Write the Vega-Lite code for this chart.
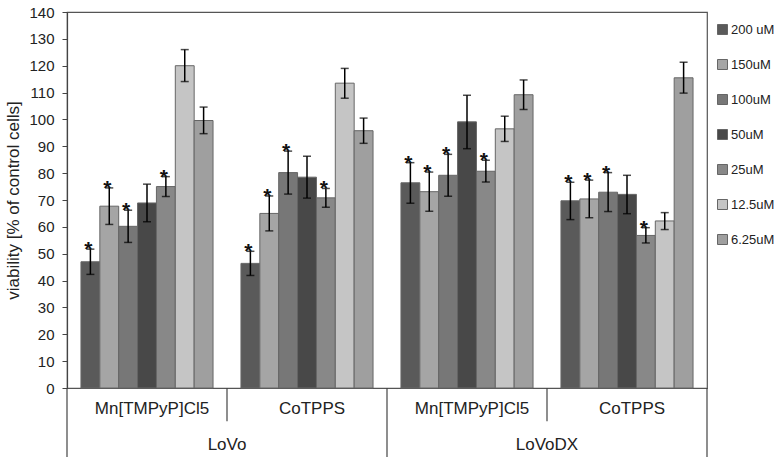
{
  "$schema": "https://vega.github.io/schema/vega-lite/v6.json",
  "width": 640,
  "height": 376,
  "autosize": {"type": "none"},
  "padding": {"left": 67, "top": 12, "right": 70, "bottom": 69},
  "background": "white",
  "config": {
    "font": "Liberation Sans",
    "view": {"stroke": "#555", "strokeWidth": 1.2},
    "axis": {"grid": false},
    "axisY": {"labelOverlap": false, "tickCount": 30, "labelFontSize": 15, "labelColor": "#222", "labelPadding": 8,
              "tickSize": 5, "tickColor": "#444", "domainColor": "#444", "domainWidth": 1.2,
              "titleFontSize": 17, "titleFontWeight": "normal", "titleColor": "#222", "titlePadding": 6}
  },
  "data": {"values": [
    {"grp": "LoVo Mn[TMPyP]Cl5", "conc": "200 uM", "v": 47.0, "lo": 42.3, "hi": 51.7, "star": "*"},
    {"grp": "LoVo Mn[TMPyP]Cl5", "conc": "150uM", "v": 67.7, "lo": 60.9, "hi": 74.5, "star": "*"},
    {"grp": "LoVo Mn[TMPyP]Cl5", "conc": "100uM", "v": 60.2, "lo": 54.2, "hi": 66.2, "star": "*"},
    {"grp": "LoVo Mn[TMPyP]Cl5", "conc": "50uM", "v": 68.9, "lo": 61.9, "hi": 75.9, "star": ""},
    {"grp": "LoVo Mn[TMPyP]Cl5", "conc": "25uM", "v": 75.0, "lo": 71.3, "hi": 78.7, "star": "*"},
    {"grp": "LoVo Mn[TMPyP]Cl5", "conc": "12.5uM", "v": 120.0, "lo": 114.1, "hi": 126.0, "star": ""},
    {"grp": "LoVo Mn[TMPyP]Cl5", "conc": "6.25uM", "v": 99.6, "lo": 94.7, "hi": 104.6, "star": ""},
    {"grp": "LoVo CoTPPS", "conc": "200 uM", "v": 46.4, "lo": 41.9, "hi": 50.9, "star": "*"},
    {"grp": "LoVo CoTPPS", "conc": "150uM", "v": 65.0, "lo": 58.5, "hi": 71.5, "star": "*"},
    {"grp": "LoVo CoTPPS", "conc": "100uM", "v": 80.2, "lo": 72.2, "hi": 88.2, "star": "*"},
    {"grp": "LoVo CoTPPS", "conc": "50uM", "v": 78.5, "lo": 70.7, "hi": 86.3, "star": ""},
    {"grp": "LoVo CoTPPS", "conc": "25uM", "v": 70.8, "lo": 67.3, "hi": 74.3, "star": "*"},
    {"grp": "LoVo CoTPPS", "conc": "12.5uM", "v": 113.5, "lo": 107.9, "hi": 119.0, "star": ""},
    {"grp": "LoVo CoTPPS", "conc": "6.25uM", "v": 95.8, "lo": 91.1, "hi": 100.5, "star": ""},
    {"grp": "LoVoDX Mn[TMPyP]Cl5", "conc": "200 uM", "v": 76.4, "lo": 68.8, "hi": 83.9, "star": "*"},
    {"grp": "LoVoDX Mn[TMPyP]Cl5", "conc": "150uM", "v": 73.1, "lo": 65.8, "hi": 80.4, "star": "*"},
    {"grp": "LoVoDX Mn[TMPyP]Cl5", "conc": "100uM", "v": 79.2, "lo": 71.4, "hi": 87.0, "star": "*"},
    {"grp": "LoVoDX Mn[TMPyP]Cl5", "conc": "50uM", "v": 99.1, "lo": 89.1, "hi": 109.0, "star": ""},
    {"grp": "LoVoDX Mn[TMPyP]Cl5", "conc": "25uM", "v": 80.7, "lo": 76.7, "hi": 84.8, "star": "*"},
    {"grp": "LoVoDX Mn[TMPyP]Cl5", "conc": "12.5uM", "v": 96.5, "lo": 91.8, "hi": 101.2, "star": ""},
    {"grp": "LoVoDX Mn[TMPyP]Cl5", "conc": "6.25uM", "v": 109.2, "lo": 103.7, "hi": 114.7, "star": ""},
    {"grp": "LoVoDX CoTPPS", "conc": "200 uM", "v": 69.7, "lo": 62.7, "hi": 76.6, "star": "*"},
    {"grp": "LoVoDX CoTPPS", "conc": "150uM", "v": 70.4, "lo": 63.4, "hi": 77.4, "star": "*"},
    {"grp": "LoVoDX CoTPPS", "conc": "100uM", "v": 72.9, "lo": 65.7, "hi": 80.2, "star": "*"},
    {"grp": "LoVoDX CoTPPS", "conc": "50uM", "v": 72.1, "lo": 64.9, "hi": 79.2, "star": ""},
    {"grp": "LoVoDX CoTPPS", "conc": "25uM", "v": 56.8, "lo": 54.0, "hi": 59.7, "star": "*"},
    {"grp": "LoVoDX CoTPPS", "conc": "12.5uM", "v": 62.2, "lo": 59.0, "hi": 65.3, "star": ""},
    {"grp": "LoVoDX CoTPPS", "conc": "6.25uM", "v": 115.5, "lo": 109.8, "hi": 121.3, "star": ""}
  ]},
  "encoding": {
    "x": {"field": "grp", "type": "nominal", "axis": null,
          "scale": {"domain": ["LoVo Mn[TMPyP]Cl5", "LoVo CoTPPS", "LoVoDX Mn[TMPyP]Cl5", "LoVoDX CoTPPS"], "paddingInner": 0, "paddingOuter": 0}}
  },
  "layer": [
    {
      "mark": {"type": "bar", "stroke": "#666", "strokeWidth": 1},
      "encoding": {
        "xOffset": {"field": "conc", "type": "nominal",
                    "scale": {"domain": ["200 uM", "150uM", "100uM", "50uM", "25uM", "12.5uM", "6.25uM"], "paddingInner": 0, "paddingOuter": 0.74}},
        "y": {"field": "v", "type": "quantitative",
              "scale": {"domain": [0, 140], "nice": false, "zero": true},
              "axis": {"values": [0, 10, 20, 30, 40, 50, 60, 70, 80, 90, 100, 110, 120, 130, 140],
                       "labelOverlap": false, "tickCount": 30,
                       "title": "viability [% of control cells]"}},
        "color": {"field": "conc", "type": "nominal",
                  "scale": {"domain": ["200 uM", "150uM", "100uM", "50uM", "25uM", "12.5uM", "6.25uM"],
                            "range": ["#5a5a5a", "#a5a5a5", "#777777", "#484848", "#888888", "#c5c5c5", "#9f9f9f"]},
                  "legend": {"title": null, "orient": "none", "legendX": 649, "legendY": 11, "padding": 0,
                             "symbolType": "square", "symbolSize": 100, "symbolStrokeColor": "#666", "symbolStrokeWidth": 1,
                             "labelFontSize": 13, "labelColor": "#222", "labelOffset": 2, "rowPadding": 20}}
      }
    },
    {
      "mark": {"type": "rule", "color": "black", "strokeWidth": 1.5},
      "encoding": {
        "xOffset": {"field": "conc", "type": "nominal"},
        "y": {"field": "lo", "type": "quantitative"},
        "y2": {"field": "hi"}
      }
    },
    {
      "mark": {"type": "tick", "color": "black", "size": 8, "thickness": 1.5, "orient": "horizontal"},
      "encoding": {
        "xOffset": {"field": "conc", "type": "nominal"},
        "y": {"field": "hi", "type": "quantitative"}
      }
    },
    {
      "mark": {"type": "tick", "color": "black", "size": 8, "thickness": 1.5, "orient": "horizontal"},
      "encoding": {
        "xOffset": {"field": "conc", "type": "nominal"},
        "y": {"field": "lo", "type": "quantitative"}
      }
    },
    {
      "mark": {"type": "text", "fontSize": 21, "fontWeight": "bold", "color": "#111", "baseline": "middle", "dx": -2, "dy": 1},
      "encoding": {
        "xOffset": {"field": "conc", "type": "nominal"},
        "y": {"field": "hi", "type": "quantitative"},
        "text": {"field": "star"}
      }
    },
    {
      "data": {"values": [
        {"grp": "LoVo Mn[TMPyP]Cl5", "label": "Mn[TMPyP]Cl5"},
        {"grp": "LoVo CoTPPS", "label": "CoTPPS"},
        {"grp": "LoVoDX Mn[TMPyP]Cl5", "label": "Mn[TMPyP]Cl5"},
        {"grp": "LoVoDX CoTPPS", "label": "CoTPPS"}
      ]},
      "mark": {"type": "text", "fontSize": 17, "color": "#222", "baseline": "middle", "dx": 5},
      "encoding": {
        "y": {"datum": -8},
        "text": {"field": "label"}
      }
    },
    {
      "data": {"values": [
        {"grp": "LoVo CoTPPS", "label": "LoVo"},
        {"grp": "LoVoDX CoTPPS", "label": "LoVoDX"}
      ]},
      "mark": {"type": "text", "fontSize": 17, "color": "#222", "baseline": "middle"},
      "encoding": {
        "x": {"field": "grp", "type": "nominal", "bandPosition": 0},
        "y": {"datum": -21.3},
        "text": {"field": "label"}
      }
    },
    {
      "data": {"values": [
        {"grp": "LoVo CoTPPS"},
        {"grp": "LoVoDX CoTPPS"}
      ]},
      "mark": {"type": "rule", "color": "#444", "strokeWidth": 1.2},
      "encoding": {
        "x": {"field": "grp", "type": "nominal", "bandPosition": 0},
        "y": {"datum": 0},
        "y2": {"datum": -12.4}
      }
    },
    {
      "data": {"values": [
        {"grp": "LoVo Mn[TMPyP]Cl5"},
        {"grp": "LoVoDX Mn[TMPyP]Cl5"}
      ]},
      "mark": {"type": "rule", "color": "#444", "strokeWidth": 1.2},
      "encoding": {
        "x": {"field": "grp", "type": "nominal", "bandPosition": 0},
        "y": {"datum": 0},
        "y2": {"datum": -27}
      }
    },
    {
      "data": {"values": [
        {"grp": "LoVoDX CoTPPS"}
      ]},
      "mark": {"type": "rule", "color": "#444", "strokeWidth": 1.2},
      "encoding": {
        "x": {"field": "grp", "type": "nominal", "bandPosition": 1},
        "y": {"datum": 0},
        "y2": {"datum": -27}
      }
    }
  ]
}
